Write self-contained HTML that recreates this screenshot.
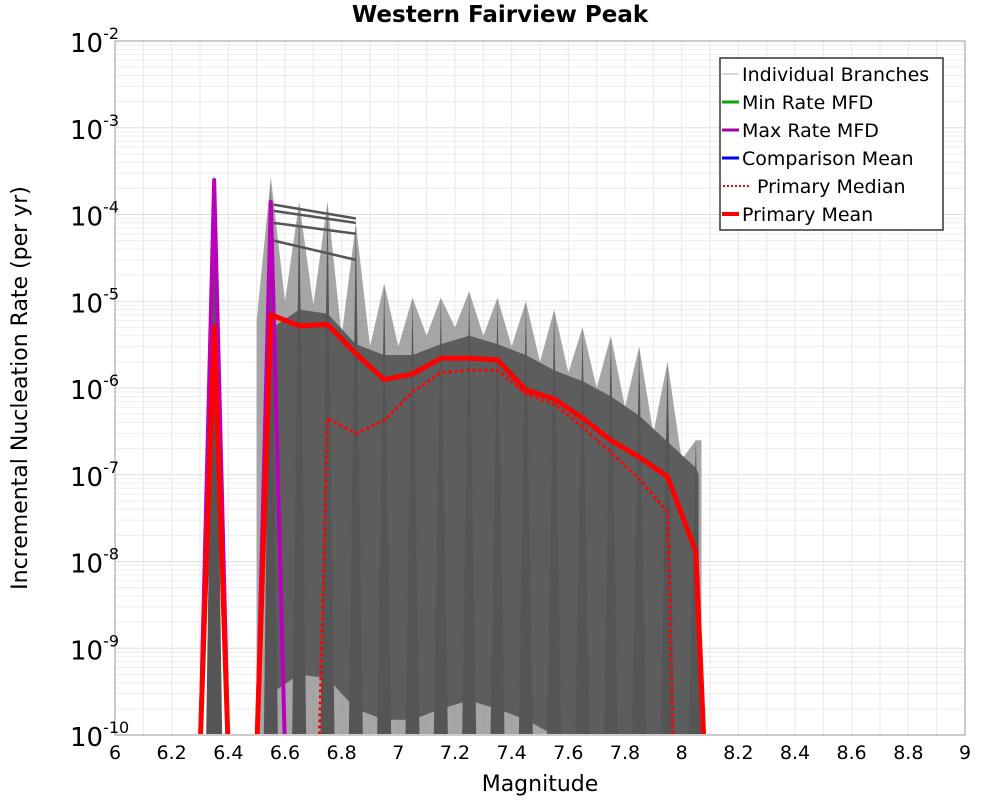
<!DOCTYPE html>
<html><head><meta charset="utf-8"><style>
body{margin:0;background:#fff;}
svg{display:block;font-family:"DejaVu Sans","Liberation Sans",sans-serif;}
</style></head><body>
<svg id="chart" width="1000" height="800" xmlns="http://www.w3.org/2000/svg">
<defs><clipPath id="plotclip"><rect x="115" y="41" width="850" height="693"/></clipPath></defs>
<text x="500" y="22" text-anchor="middle" font-size="23" font-weight="bold">Western Fairview Peak</text>
<g id="grid"></g>
<g id="gray" clip-path="url(#plotclip)"></g>
<g id="series" clip-path="url(#plotclip)"></g>
<rect x="115" y="41" width="850" height="694" fill="none" stroke="#999" stroke-width="1"/>
<g id="axes"></g>
<text x="540" y="791" text-anchor="middle" font-size="22">Magnitude</text>
<text transform="translate(27,388) rotate(-90)" text-anchor="middle" font-size="22">Incremental Nucleation Rate (per yr)</text>
<g id="legend">
<rect x="720" y="58" width="223" height="172" fill="#fff" stroke="#333" stroke-width="1.5"/>
<g font-size="19">
<line x1="722" y1="74" x2="739" y2="74" stroke="#ccc" stroke-width="1.5"/><text x="742" y="81">Individual Branches</text>
<line x1="722" y1="102" x2="739" y2="102" stroke="#0a0" stroke-width="3"/><text x="742" y="109">Min Rate MFD</text>
<line x1="722" y1="130" x2="739" y2="130" stroke="#a0a" stroke-width="3"/><text x="742" y="137">Max Rate MFD</text>
<line x1="722" y1="158" x2="739" y2="158" stroke="#00f" stroke-width="3"/><text x="742" y="165">Comparison Mean</text>
<line x1="723" y1="186" x2="751" y2="186" stroke="#f00" stroke-width="2" stroke-dasharray="2,2"/><text x="757" y="193">Primary Median</text>
<line x1="722" y1="214" x2="739" y2="214" stroke="#f00" stroke-width="4"/><text x="742" y="221">Primary Mean</text>
</g></g>
</svg>
<script>
const xTicks=[6,6.2,6.4,6.6,6.8,7,7.2,7.4,7.6,7.8,8,8.2,8.4,8.6,8.8,9];
const yExps=[-2,-3,-4,-5,-6,-7,-8,-9,-10];
const binMags=[6.55,6.65,6.75,6.85,6.95,7.05,7.15,7.25,7.35,7.45,7.55,7.65,7.75,7.85,7.95,8.05];
const spikePeaks=[2.7e-4,1.4e-4,1.4e-4,8e-5,1.6e-5,1.1e-5,1.1e-5,1.3e-5,1.1e-5,1.0e-5,8e-6,5e-6,4e-6,3e-6,2e-6,2.5e-7];
const envelopeValleys=[6e-6,1e-5,9e-6,4e-6,3e-6,3e-6,4e-6,5e-6,4e-6,3e-6,2e-6,1.5e-6,1e-6,6e-7,3e-7,1.5e-7];
const topBranchLines=[[1.3e-4,9e-5],[1.1e-4,8e-5],[8e-5,6e-5],[5e-5,3e-5]];
const meanMags=[6.3,6.35,6.4,6.5,6.55,6.65,6.75,6.85,6.95,7.05,7.15,7.25,7.35,7.45,7.55,7.65,7.75,7.85,7.95,8.05,8.08];
const meanVals=[1e-11,5e-6,1e-11,1e-11,7e-6,5.2e-6,5.4e-6,2.5e-6,1.25e-6,1.45e-6,2.2e-6,2.2e-6,2.1e-6,9.5e-7,7.5e-7,4.5e-7,2.5e-7,1.6e-7,9.5e-8,1.3e-8,1e-11];
const medianMags=[6.72,6.75,6.85,6.95,7.05,7.15,7.25,7.35,7.45,7.55,7.65,7.75,7.85,7.95,7.97];
const medianVals=[1e-11,4.5e-7,3e-7,4.2e-7,9e-7,1.5e-6,1.6e-6,1.6e-6,8.5e-7,6.5e-7,3.6e-7,1.8e-7,9e-8,3.7e-8,1e-11];
const maxMags=[6.3,6.35,6.4,6.5,6.55,6.6];
const maxVals=[1e-11,2.5e-4,1e-11,1e-11,1.4e-4,1e-11];

const NS="http://www.w3.org/2000/svg";
const X0=115,X1=965,Y0=41,Y1=735;
const xs=m=>X0+(m-6)/3*(X1-X0);
const ys=v=>{let l=Math.log10(v);if(l<-10)l=-10.2;return Y0+(-2-l)/8*(Y1-Y0);};
function mk(tag,attrs,parent){const e=document.createElementNS(NS,tag);for(const k in attrs)e.setAttribute(k,attrs[k]);parent.appendChild(e);return e;}
const grid=document.getElementById('grid'),gray=document.getElementById('gray'),ser=document.getElementById('series'),axes=document.getElementById('axes');
for(const e of yExps){for(let k=1;k<10;k++){const v=k*Math.pow(10,e);if(v>1e-2+1e-12)continue;const y=ys(v);
const l=mk('line',{x1:X0,x2:X1,y1:y,y2:y,stroke:k==1?'#ddd':'#eee','stroke-width':1},grid);

}}
for(let m=6;m<=9.001;m+=0.1){const x=xs(m);const l=mk('line',{x1:x,x2:x,y1:Y0,y2:Y1,stroke:'#e8e8e8','stroke-width':1},grid);

}
for(const t of xTicks){const tx=mk('text',{x:xs(t),y:759,'text-anchor':'middle','font-size':19},axes);tx.textContent=String(t);

}
for(const e of yExps){const y=ys(Math.pow(10,e));const tx=mk('text',{x:70,y:y+11,'font-size':26},axes);


const a=mk('tspan',{},tx);a.textContent='10';const b=mk('tspan',{dy:-13,'font-size':16},tx);b.textContent=String(e);}
let pts=[[xs(6.5),Y1]];
binMags.forEach((m,i)=>{pts.push([xs(m-0.05),ys(envelopeValleys[i])]);pts.push([xs(m),ys(spikePeaks[i])]);});
pts.push([xs(8.07),ys(2.5e-7)]);pts.push([xs(8.07),Y1]);
const env=mk('polygon',{points:pts.map(p=>p.join(',')).join(' '),fill:'#888','fill-opacity':0.75},gray);


let pts2=[[xs(6.56),Y1]];
binMags.forEach((m,i)=>{pts2.push([xs(m),ys(envelopeValleys[i]*0.8)]);});
pts2.push([xs(8.06),ys(1e-7)]);pts2.push([xs(8.06),ys(1e-10)]);
for(let i=binMags.length-1;i>=0;i--){pts2.push([xs(binMags[i]),ys(envelopeValleys[i]*0.00005)]);}
const core=mk('polygon',{points:pts2.map(p=>p.join(',')).join(' '),fill:'#555','fill-opacity':0.9},gray);


binMags.forEach((m,i)=>{const x=xs(m);
const p=mk('polygon',{points:`${x-7},${Y1} ${x},${ys(spikePeaks[i])} ${x+7},${Y1}`,fill:'#555'},gray);

});
{const x=xs(6.35);const p=mk('polygon',{points:`${x-8},${Y1} ${x},${ys(2.5e-4)} ${x+8},${Y1}`,fill:'#555'},gray);

}
topBranchLines.forEach(v=>{const l=mk('polyline',{points:`${xs(6.56)},${ys(v[0])} ${xs(6.85)},${ys(v[1])}`,fill:'none',stroke:'#555','stroke-width':2.5},gray);

});
function line(ms,vs,attrs,name){const l=mk('polyline',Object.assign({points:ms.map((m,i)=>xs(m)+','+ys(vs[i])).join(' '),fill:'none','stroke-linejoin':'round'},attrs),ser);

}
line(maxMags,maxVals,{stroke:'#b0b','stroke-width':4},'max-rate-line');
line(medianMags,medianVals,{stroke:'#f00','stroke-width':3,'stroke-dasharray':'3,3'},'primary-median-line');
line(meanMags,meanVals,{stroke:'#f00','stroke-width':5},'primary-mean-line');
</script>
</body></html>
